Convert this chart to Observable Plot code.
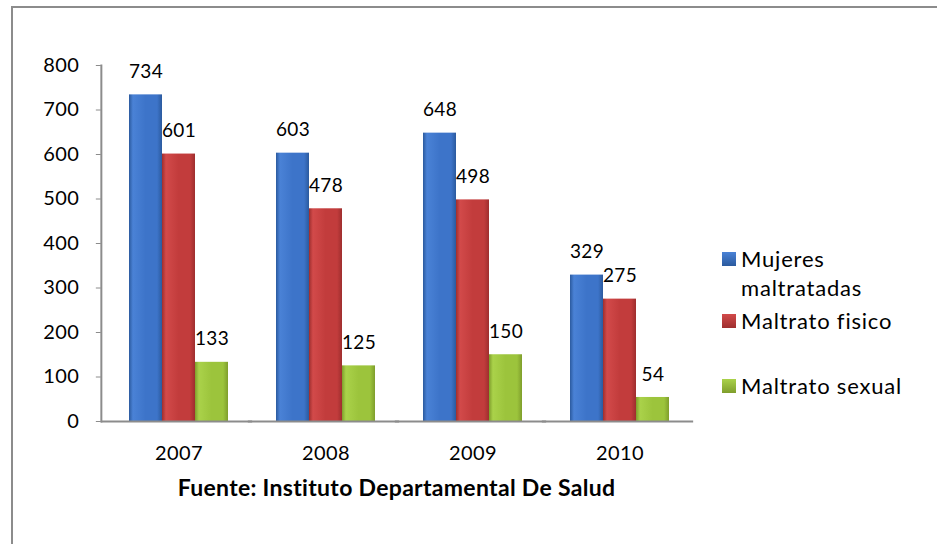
<!DOCTYPE html>
<html>
<head>
<meta charset="utf-8">
<script src="https://cdn.jsdelivr.net/npm/d3@7"></script>
<script src="https://cdn.jsdelivr.net/npm/@observablehq/plot@0.6"></script>
<style>
  html, body { margin: 0; padding: 0; background: #fff; }
  #wrap { position: relative; width: 937px; height: 544px; overflow: hidden; font-family: Lato, "Open Sans", sans-serif; }
  #border { position: absolute; left: 11px; top: 6px; width: 940px; height: 560px; border-left: 2px solid #8c8c8c; border-top: 2px solid #8c8c8c; box-sizing: border-box; }
  #chart { position: absolute; left: 0; top: 0; }
  #chart svg text { letter-spacing: 0.4px; }
  #caption { position: absolute; left: 0; width: 793px; top: 474px; line-height: 26px; text-align: center; font-weight: bold; font-size: 23px; letter-spacing: 0.3px; color: #000; }
  #legend { position: absolute; left: 722px; top: 244px; font-size: 22px; letter-spacing: 0.8px; color: #000; }
  .li { position: absolute; padding-left: 19px; line-height: 29px; }
  .sw { position: absolute; left: 0; top: 8px; width: 14px; height: 14px; }
</style>
</head>
<body>
<div id="wrap">
  <div id="border"></div>
  <div id="chart"></div>
  <div id="legend"></div>
  <div id="caption"></div>
</div>
<script>
const years = ["2007", "2008", "2009", "2010"];
const seriesNames = ["Mujeres maltratadas", "Maltrato fisico", "Maltrato sexual"];
const mujeres = [734, 603, 648, 329];
const fisico = [601, 478, 498, 275];
const sexual = [133, 125, 150, 54];
const yTicks = [0, 100, 200, 300, 400, 500, 600, 700, 800];
const captionText = "Fuente: Instituto Departamental De Salud";

const colors = [
  {id: "gBlue", edge: "#2b5a9e", mid: "#3d74c9", light: "#4a82d6"},
  {id: "gRed", edge: "#9e2e2e", mid: "#c23c3c", light: "#d24a4a"},
  {id: "gGreen", edge: "#7f9e2c", mid: "#9cc43c", light: "#aad24a"}
];

const allSeries = [mujeres, fisico, sexual];
const data = [];
years.forEach((y, i) => {
  seriesNames.forEach((s, k) => {
    data.push({year: y, series: s, value: allSeries[k][i], k});
  });
});

const paddingInner = 0.328;
const marginLeft = 104, marginRight = 244;
const width = 937;
const step = (width - marginLeft - marginRight) / years.length;
const halfGap = step * paddingInner / 2;
const axisX = 100;                       // where the value axis line sits
const leftShift = marginLeft + halfGap - axisX;

const font = "Lato, 'Open Sans', sans-serif";

const chart = Plot.plot({
  width,
  height: 470,
  marginLeft,
  marginRight,
  marginTop: 65,
  marginBottom: 49,
  style: {fontFamily: font, fontSize: "19px", color: "#000", background: "transparent"},
  fx: {domain: years, paddingInner, paddingOuter: paddingInner / 2, label: null, axis: null},
  x: {domain: seriesNames, padding: 0, axis: null},
  y: {domain: [0, 800], axis: null},
  marks: [
    Plot.barY(data, {
      fx: "year", x: "series", y: "value",
      fill: d => `url(#${colors[d.k].id})`
    }),
    Plot.text(data, {
      fx: "year", x: "series", y: "value", text: d => String(d.value),
      dy: -23, fontSize: 19, fill: "#000"
    }),
    Plot.ruleY([0], {stroke: "#8c8c8c", strokeWidth: 2, insetLeft: -leftShift, insetRight: -halfGap}),
    Plot.axisY({ticks: yTicks, tickSize: 5, tickPadding: 17, dx: -leftShift, fontSize: 20, stroke: "#8c8c8c", tickFormat: d => String(d), label: null}),
    Plot.frame({anchor: "left", facetAnchor: "left", dx: -leftShift, stroke: "#8c8c8c", strokeWidth: 2}),
    Plot.axisFx({anchor: "bottom", tickSize: 0, tickPadding: 24, fontSize: 20, label: null})
  ]
});

// gradients for the bevel look
const ns = "http://www.w3.org/2000/svg";
const defs = document.createElementNS(ns, "defs");
colors.forEach(c => {
  const g = document.createElementNS(ns, "linearGradient");
  g.setAttribute("id", c.id);
  g.setAttribute("x1", "0"); g.setAttribute("x2", "1");
  g.setAttribute("y1", "0"); g.setAttribute("y2", "0");
  [[0, c.edge], [0.12, c.light], [0.5, c.mid], [0.85, c.mid], [1, c.edge]].forEach(([o, col]) => {
    const s = document.createElementNS(ns, "stop");
    s.setAttribute("offset", o);
    s.setAttribute("stop-color", col);
    g.appendChild(s);
  });
  defs.appendChild(g);
});
chart.insertBefore(defs, chart.firstChild);
document.getElementById("chart").appendChild(chart);

// legend
const legend = document.getElementById("legend");
const legendTops = [0, 62, 127];
seriesNames.forEach((s, k) => {
  const div = document.createElement("div");
  div.className = "li";
  div.style.top = legendTops[k] + "px";
  div.style.width = k === 0 ? "140px" : "215px";
  const sw = document.createElement("span");
  sw.className = "sw";
  sw.style.background = `linear-gradient(180deg, ${colors[k].light}, ${colors[k].edge})`;
  div.appendChild(sw);
  const t = document.createElement("span");
  t.textContent = s;
  div.appendChild(t);
  legend.appendChild(div);
});
document.getElementById("caption").textContent = captionText;
</script>
</body>
</html>
